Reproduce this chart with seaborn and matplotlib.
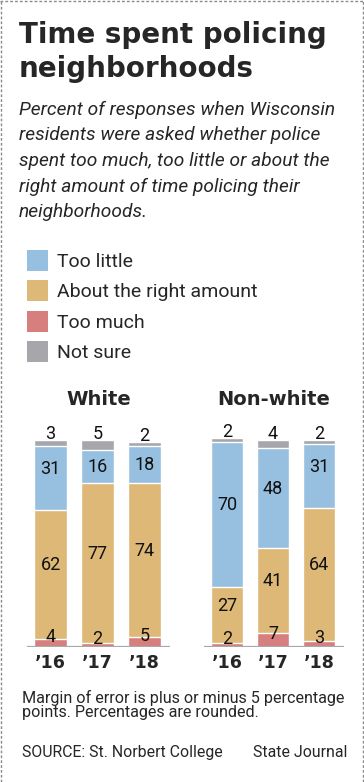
import numpy as np
import pandas as pd
import seaborn as sns
from matplotlib import pyplot as plt
from matplotlib.patches import Rectangle

# Dati (percentuali)
years = ["\u201916", "\u201917", "\u201918"]
groups = ["White", "Non-white"]
categories = ["Too much", "About the right amount", "Too little", "Not sure"]
legend_order = ["Too little", "About the right amount", "Too much", "Not sure"]

white_too_much = [4, 2, 5]
white_about_right = [62, 77, 74]
white_too_little = [31, 16, 18]
white_not_sure = [3, 5, 2]

nonwhite_too_much = [2, 7, 3]
nonwhite_about_right = [27, 41, 64]
nonwhite_too_little = [70, 48, 31]
nonwhite_not_sure = [2, 4, 2]

colors = {
    "Too little": "#97c0e0",
    "About the right amount": "#deb876",
    "Too much": "#d67f7e",
    "Not sure": "#a7a7ab",
}

W, H = 364, 782
sns.set_style("white")
plt.rcParams["font.family"] = ["Roboto", "DejaVu Sans"]
HEAVY = ["DejaVu Sans"]


def fx(px):
    return px / W


def fy(px):
    return 1 - px / H


rows = []
for grp, vals in [
    ("White", [white_too_much, white_about_right, white_too_little, white_not_sure]),
    ("Non-white", [nonwhite_too_much, nonwhite_about_right, nonwhite_too_little, nonwhite_not_sure]),
]:
    for cat, v in zip(categories, vals):
        for yr, val in zip(years, v):
            rows.append({"group": grp, "category": cat, "year": yr, "value": val})
df = pd.DataFrame(rows)
df["cat_idx"] = df["category"].map({c: i for i, c in enumerate(categories)})
df = df.sort_values(["group", "year", "cat_idx"])
df["top"] = df.groupby(["group", "year"])["value"].cumsum()
df["bottom"] = df["top"] - df["value"]

fig = plt.figure(figsize=(W / 100, H / 100), dpi=100)

# Titolo e sottotitolo
fig.text(fx(19), fy(43), "Time spent policing", fontsize=20, fontweight="bold",
         family=HEAVY, va="baseline", ha="left")
fig.text(fx(19), fy(77), "neighborhoods", fontsize=20, fontweight="bold",
         family=HEAVY, va="baseline", ha="left")
subtitle = ["Percent of responses when Wisconsin",
            "residents were asked whether police",
            "spent too much, too little or about the",
            "right amount of time policing their",
            "neighborhoods."]
for i, line in enumerate(subtitle):
    fig.text(fx(19), fy(115 + 25.5 * i), line, fontsize=13.75, style="italic",
             va="baseline", ha="left")

# Legenda
for i, cat in enumerate(legend_order):
    top = 250 + 30.4 * i
    fig.add_artist(Rectangle((fx(27), fy(top + 21)), 21 / W, 21 / H,
                             transform=fig.transFigure, color=colors[cat], lw=0))
    fig.text(fx(57), fy(top + 17), cat, fontsize=14, va="baseline", ha="left")

# Pannelli
px_per_pct = 207 / 100
ymax = 112
panels = {"White": (27, 170), "Non-white": (204, 344)}
for grp in groups:
    x0, x1 = panels[grp]
    ax = fig.add_axes([fx(x0), fy(647), (x1 - x0) / W, ymax * px_per_pct / H])
    sub = df[df["group"] == grp]
    for cat in reversed(categories):
        d = sub[sub["category"] == cat]
        sns.barplot(data=d, x="year", y="top", order=years, color=colors[cat],
                    width=0.71, edgecolor="white", linewidth=1.0, saturation=1,
                    ax=ax)
    ax.set_ylim(0, ymax)
    ax.set_xlim(-0.5, 2.54)
    ax.axhline(0, color="#a9a9a9", lw=1.6, zorder=5)
    ax.set_xlabel("")
    ax.set_ylabel("")
    ax.set_yticks([])
    ax.tick_params(axis="x", length=0, pad=5)
    for lab in ax.get_xticklabels():
        lab.set_fontweight("bold")
        lab.set_fontsize(12.5)
        lab.set_family(HEAVY)
    sns.despine(ax=ax, left=True, bottom=True)

    # Etichette dei valori
    for _, r in sub.iterrows():
        xi = years.index(r["year"])
        if r["category"] == "Not sure":
            y = r["top"] + 3
        elif r["category"] == "Too much":
            y = r["value"] / 2 + 3
        else:
            y = (r["bottom"] + r["top"]) / 2 + (4.5 if r["value"] >= 20 else 0)
        ax.text(xi, y, f"{int(r['value'])}", ha="center", va="center",
                fontsize=13, color="#111111", zorder=6)

    fig.text((fx(x0) + fx(x1)) / 2, fy(405), grp, fontsize=14, fontweight="bold",
             family=HEAVY, ha="center", va="baseline")

# Note a piè di pagina
fig.text(fx(22), fy(703), "Margin of error is plus or minus 5 percentage",
         fontsize=11.6, va="baseline", ha="left")
fig.text(fx(22), fy(717.5), "points. Percentages are rounded.",
         fontsize=11.6, va="baseline", ha="left")
fig.text(fx(22), fy(757), "SOURCE: St. Norbert College", fontsize=11.4,
         va="baseline", ha="left")
fig.text(fx(347), fy(757), "State Journal", fontsize=11.4,
         va="baseline", ha="right")

# Cornice tratteggiata (sinistra, alto, destra)
border = dict(color="#8a8a8a", lw=1.0, ls=(0, (2, 1.5)), transform=fig.transFigure)
fig.add_artist(plt.Line2D([fx(0.5), fx(0.5)], [0, 1], **border))
fig.add_artist(plt.Line2D([0, 1], [fy(0.5), fy(0.5)], **border))
fig.add_artist(plt.Line2D([fx(363), fx(363)], [0, 1], **border))

fig.savefig("out.png", dpi=100, facecolor="white")
